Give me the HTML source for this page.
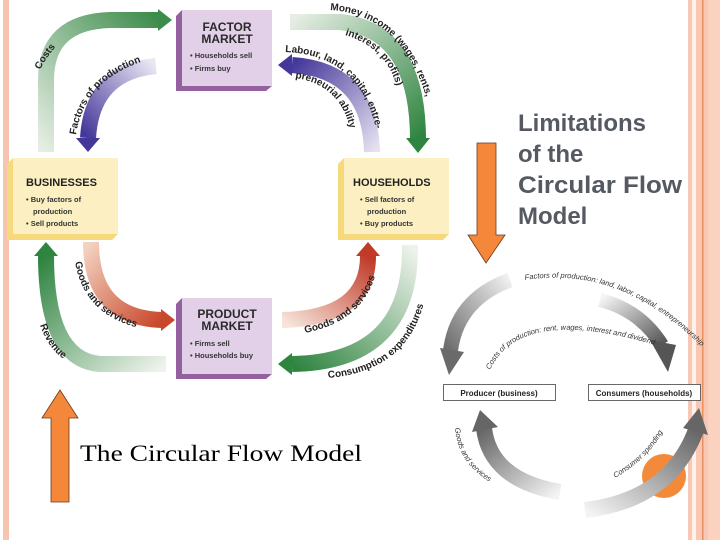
<!DOCTYPE html>
<html><head><meta charset="utf-8"><style>
html,body{margin:0;padding:0;background:#fff;}
svg{display:block;font-family:"Liberation Sans",Arial,sans-serif;}
</style></head><body>
<svg width="720" height="540" viewBox="0 0 720 540" xmlns="http://www.w3.org/2000/svg">
<defs>
<linearGradient id="gTL" x1="0" y1="1" x2="1" y2="0"><stop offset="0" stop-color="#e6eee4"/><stop offset="1" stop-color="#3d8c4b"/></linearGradient>
<linearGradient id="gTR" x1="0" y1="0" x2="1" y2="1"><stop offset="0" stop-color="#e6eee4"/><stop offset="1" stop-color="#2f8440"/></linearGradient>
<linearGradient id="gBL" x1="1" y1="1" x2="0" y2="0"><stop offset="0" stop-color="#eef3ec"/><stop offset="1" stop-color="#2f8440"/></linearGradient>
<linearGradient id="gBR" x1="1" y1="0" x2="0" y2="1"><stop offset="0" stop-color="#eef3ec"/><stop offset="1" stop-color="#2f8440"/></linearGradient>
<linearGradient id="pL" x1="1" y1="0" x2="0" y2="1"><stop offset="0" stop-color="#ebe8f4"/><stop offset="1" stop-color="#44379a"/></linearGradient>
<linearGradient id="pR" x1="1" y1="1" x2="0" y2="0"><stop offset="0" stop-color="#e4e0f0"/><stop offset="1" stop-color="#44379a"/></linearGradient>
<linearGradient id="oL" x1="0" y1="0" x2="1" y2="1"><stop offset="0" stop-color="#f3d2c0"/><stop offset="1" stop-color="#c9482c"/></linearGradient>
<linearGradient id="oR" x1="0" y1="1" x2="1" y2="0"><stop offset="0" stop-color="#f7e4da"/><stop offset="1" stop-color="#c03a28"/></linearGradient>
<linearGradient id="gy1" x1="1" y1="0" x2="0" y2="1"><stop offset="0" stop-color="#f0f0f0"/><stop offset="1" stop-color="#6a6a6a"/></linearGradient>
<linearGradient id="gy2" x1="0" y1="0" x2="1" y2="1"><stop offset="0" stop-color="#f4f4f4"/><stop offset="1" stop-color="#555"/></linearGradient>
<linearGradient id="gy3" x1="1" y1="1" x2="0" y2="0"><stop offset="0" stop-color="#f4f4f4"/><stop offset="1" stop-color="#666"/></linearGradient>
<linearGradient id="gy4" x1="0" y1="1" x2="1" y2="0"><stop offset="0" stop-color="#f4f4f4"/><stop offset="1" stop-color="#666"/></linearGradient>
<path id="tCost" d="M40,70 Q60,30 100,22"/>
<path id="tFac" d="M76,135 Q85,75 155,58"/>
<path id="tMoney" d="M330,10 Q410,15 432,120"/>
<path id="tInt" d="M345,35 Q395,50 400,105"/>
<path id="tLab" d="M285,52 Q365,55 378,140"/>
<path id="tPre" d="M295,78 Q345,85 352,140"/>
<path id="tGL" d="M75,262 Q85,320 150,330"/>
<path id="tRev" d="M40,325 Q50,355 75,365"/>
<path id="tGR" d="M305,333 Q370,320 378,262"/>
<path id="tCons" d="M328,378 Q420,370 428,278"/>
<path id="r1" d="M525,280 Q620,265 700,345"/>
<path id="r2" d="M490,370 Q520,305 655,345"/>
<path id="r3" d="M455,428 Q458,465 495,485"/>
<path id="r4" d="M615,478 Q655,455 668,420"/>
</defs>

<rect x="3" y="0" width="6" height="540" fill="#f6c5b2"/>
<rect x="688" y="0" width="32" height="540" fill="#f8c8b4"/>
<rect x="692" y="0" width="4" height="540" fill="#fdf1ea"/>
<rect x="702" y="0" width="1.5" height="540" fill="#e8905f"/>
<rect x="708" y="0" width="12" height="540" fill="#fbd2c0"/>

<path d="M46,152 L46,80 Q46,22 110,20 L160,20" fill="none" stroke="url(#gTL)" stroke-width="16"/>
<polygon points="158,9 172,20 158,31" fill="#3d8c4b"/>
<path d="M156,66 Q92,72 88,138" fill="none" stroke="url(#pL)" stroke-width="16"/>
<polygon points="76,138 100,138 88,152" fill="#44379a"/>
<path d="M290,22 L340,22 Q418,30 418,140" fill="none" stroke="url(#gTR)" stroke-width="16"/>
<polygon points="406,138 430,138 418,153" fill="#2f8440"/>
<path d="M372,152 Q370,70 292,65" fill="none" stroke="url(#pR)" stroke-width="16"/>
<polygon points="292,54 292,76 278,65" fill="#44379a"/>
<path d="M166,364 L100,364 Q46,360 46,255" fill="none" stroke="url(#gBL)" stroke-width="16"/>
<polygon points="34,256 58,256 46,242" fill="#2f8440"/>
<path d="M91,242 Q91,318 162,320" fill="none" stroke="url(#oL)" stroke-width="16"/>
<polygon points="161,309 161,331 175,320" fill="#c9482c"/>
<path d="M282,320 Q368,318 368,256" fill="none" stroke="url(#oR)" stroke-width="16"/>
<polygon points="356,256 380,256 368,242" fill="#c03a28"/>
<path d="M410,245 Q412,362 292,364" fill="none" stroke="url(#gBR)" stroke-width="16"/>
<polygon points="292,353 292,375 278,364" fill="#2f8440"/>

<polygon points="182,10 176,16 176,91 266,91 272,86 182,86" fill="#95609f"/>
<rect x="182" y="10" width="90" height="76" fill="#e2d0e8"/>
<text x="227" y="31" font-size="12" font-weight="bold" text-anchor="middle" fill="#2a2a2a">FACTOR</text>
<text x="227" y="43" font-size="12" font-weight="bold" text-anchor="middle" fill="#2a2a2a">MARKET</text>
<text x="190" y="58" font-size="7.5" font-weight="bold" fill="#333">• Households sell</text>
<text x="190" y="71" font-size="7.5" font-weight="bold" fill="#333">• Firms buy</text>

<polygon points="182,298 176,304 176,379 266,379 272,374 182,374" fill="#95609f"/>
<rect x="182" y="298" width="90" height="76" fill="#e2d0e8"/>
<text x="227" y="318" font-size="12" font-weight="bold" text-anchor="middle" fill="#2a2a2a">PRODUCT</text>
<text x="227" y="330" font-size="12" font-weight="bold" text-anchor="middle" fill="#2a2a2a">MARKET</text>
<text x="190" y="346" font-size="7.5" font-weight="bold" fill="#333">• Firms sell</text>
<text x="190" y="358" font-size="7.5" font-weight="bold" fill="#333">• Households buy</text>

<polygon points="13,158 7,164 7,240 112,240 118,234 13,234" fill="#f6d97c"/>
<rect x="13" y="158" width="105" height="76" fill="#fcf0c2"/>
<text x="26" y="186" font-size="11" font-weight="bold" fill="#222">BUSINESSES</text>
<text x="26" y="202" font-size="7.5" font-weight="bold" fill="#333">• Buy factors of</text>
<text x="33" y="214" font-size="7.5" font-weight="bold" fill="#333">production</text>
<text x="26" y="226" font-size="7.5" font-weight="bold" fill="#333">• Sell products</text>

<polygon points="344,158 338,164 338,240 443,240 449,234 344,234" fill="#f6d97c"/>
<rect x="344" y="158" width="105" height="76" fill="#fcf0c2"/>
<text x="353" y="186" font-size="11" font-weight="bold" fill="#222">HOUSEHOLDS</text>
<text x="360" y="202" font-size="7.5" font-weight="bold" fill="#333">• Sell factors of</text>
<text x="367" y="214" font-size="7.5" font-weight="bold" fill="#333">production</text>
<text x="360" y="226" font-size="7.5" font-weight="bold" fill="#333">• Buy products</text>

<g font-size="10" font-weight="bold" fill="#222">
<text><textPath href="#tCost">Costs</textPath></text>
<text><textPath href="#tFac">Factors of production</textPath></text>
<text><textPath href="#tMoney">Money income (wages, rents,</textPath></text>
<text><textPath href="#tInt">interest, profits)</textPath></text>
<text><textPath href="#tLab">Labour, land, capital, entre-</textPath></text>
<text><textPath href="#tPre">preneurial ability</textPath></text>
<text><textPath href="#tGL">Goods and services</textPath></text>
<text><textPath href="#tRev">Revenue</textPath></text>
<text><textPath href="#tGR">Goods and services</textPath></text>
<text><textPath href="#tCons">Consumption expenditures</textPath></text>
</g>

<polygon points="51,502 69,502 69,418 78,418 60,390 42,418 51,418" fill="#f5873a" stroke="#6a3a1a" stroke-width="0.8"/>
<polygon points="477,143 496,143 496,235 505,235 486,263 468,235 477,235" fill="#f5873a" stroke="#6a3a1a" stroke-width="0.8"/>

<text x="80" y="461" font-family="Liberation Serif,serif" font-size="23" textLength="282" lengthAdjust="spacingAndGlyphs" fill="#000">The Circular Flow Model</text>
<g font-size="24" font-weight="bold" fill="#555a62">
<text x="518" y="131">Limitations</text>
<text x="518" y="162">of the</text>
<text x="518" y="193" textLength="164" lengthAdjust="spacingAndGlyphs">Circular Flow</text>
<text x="518" y="224">Model</text>
</g>

<circle cx="664" cy="476" r="22" fill="#f28a3a"/>
<path d="M510,280 Q455,300 450,355" fill="none" stroke="url(#gy1)" stroke-width="15"/>
<polygon points="440,348 464,352 449,375" fill="#6a6a6a"/>
<path d="M600,300 Q640,310 662,345" fill="none" stroke="url(#gy2)" stroke-width="14"/>
<polygon points="650,340 676,345 668,372" fill="#555"/>
<path d="M560,492 Q490,480 484,428" fill="none" stroke="url(#gy3)" stroke-width="16"/>
<polygon points="472,432 498,427 480,410" fill="#666"/>
<path d="M585,510 Q670,500 696,430" fill="none" stroke="url(#gy4)" stroke-width="16"/>
<polygon points="683,428 708,435 699,408" fill="#666"/>
<rect x="443.5" y="384.5" width="112" height="16" fill="#fff" stroke="#444" stroke-width="0.8"/>
<text x="499" y="396" font-size="8" font-weight="bold" text-anchor="middle" fill="#222">Producer (business)</text>
<rect x="588.5" y="384.5" width="112" height="16" fill="#fff" stroke="#444" stroke-width="0.8"/>
<text x="644" y="396" font-size="8" font-weight="bold" text-anchor="middle" fill="#222">Consumers (households)</text>
<g font-size="7.5" font-style="italic" fill="#333">
<text><textPath href="#r1">Factors of production: land, labor, capital, entrepreneurship</textPath></text>
<text><textPath href="#r2">Costs of production: rent, wages, interest and dividends, profits</textPath></text>
<text><textPath href="#r3">Goods and services</textPath></text>
<text><textPath href="#r4">Consumer spending</textPath></text>
</g>
</svg>
</body></html>
